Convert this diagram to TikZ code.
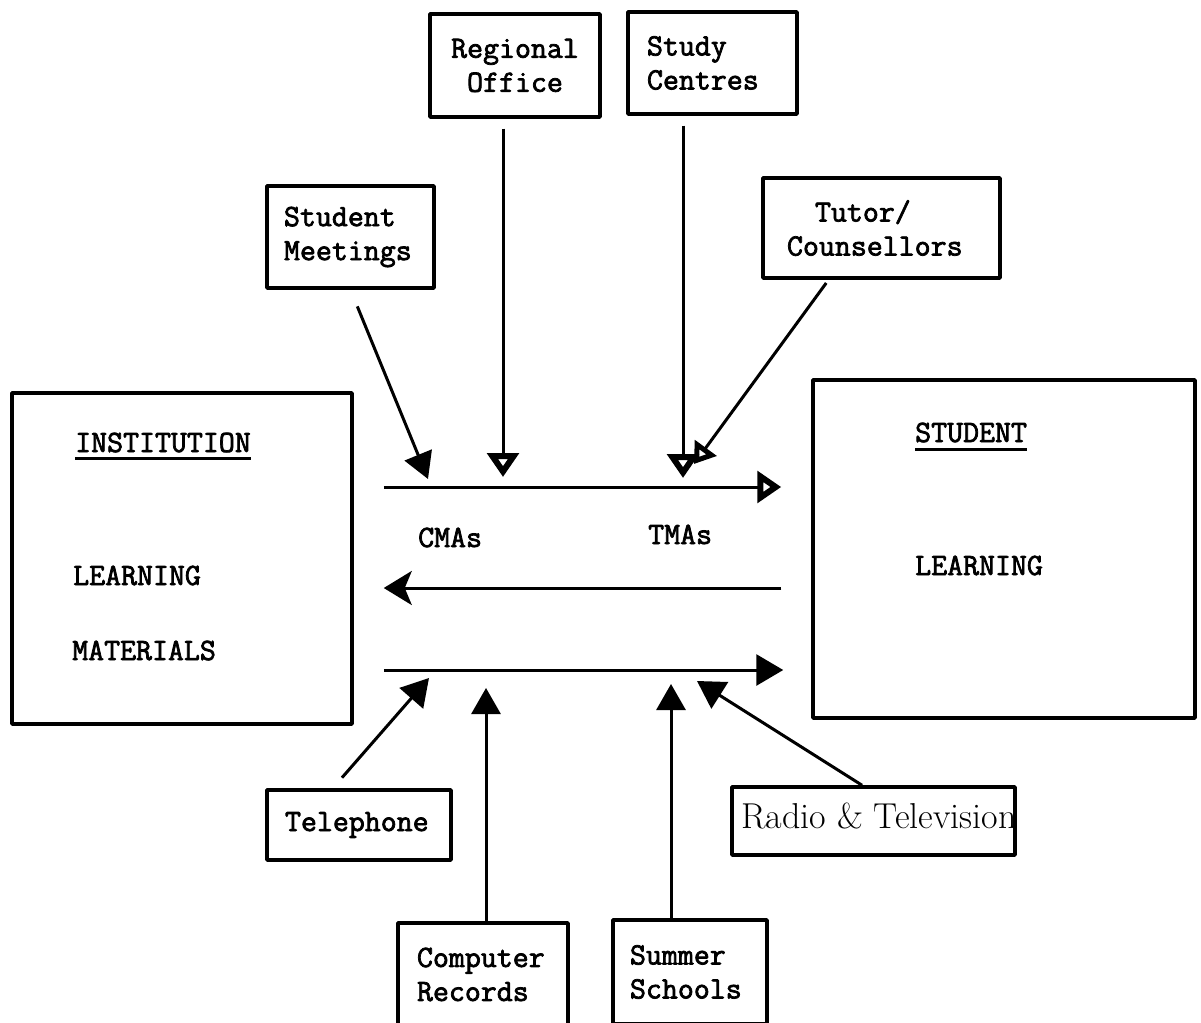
\documentclass[tikz,border=0pt]{standalone}
\usepackage{fontspec}
\newfontfamily\twfam{Latin Modern Mono}[FakeBold=2.4]
\usetikzlibrary{arrows.meta,calc}
\newcommand\twfont{\twfam\fontsize{31}{34}\selectfont}
\newcommand\radiofont{\rmfamily\fontsize{36}{40}\selectfont}
\begin{document}
\begin{tikzpicture}[x=1pt,y=-1pt,line join=round,
  box/.style={draw,line width=3.5pt,inner sep=0pt,font=\twfont},
  bigbox/.style={draw,line width=3.5pt,inner sep=0pt},
  lbl/.style={inner sep=0pt,font=\twfont,anchor=base west},
  conn/.style={line width=3pt},
  hopen/.style={-{Triangle[open,length=24pt,width=31pt,line width=6.5pt]}},
  hsmall/.style={-{Triangle[open,length=20pt,width=26pt,line width=6pt]}},
  hthick/.style={-{Triangle[length=26pt,width=29pt]}},
  hfill/.style={-{Triangle[length=27pt,width=31pt]}},
  hstealth/.style={-{Stealth[length=28pt,width=34pt,inset=7pt]}}]
\useasboundingbox (0,0) rectangle (1201,1022);

% main boxes
\node[bigbox,minimum width=340pt,minimum height=331pt] (inst) at (182,558.5) {};
\node[bigbox,minimum width=382pt,minimum height=338pt] (stud) at (1004,549) {};

\node[lbl] (insttitle) at (75,452) {INSTITUTION};
\draw[line width=3pt] ([yshift=-6pt]insttitle.base west) -- ([yshift=-6pt]insttitle.base east);
\node[lbl] (instl1) at (73,585) {LEARNING};
\node[lbl] (instl2) at (72,660) {MATERIALS};

\node[lbl] (studtitle) at (915,442) {STUDENT};
\draw[line width=3pt] ([yshift=-7pt]studtitle.base west) -- ([yshift=-7pt]studtitle.base east);
\node[lbl] (studl1) at (915,575) {LEARNING};

\node[lbl] (cmas) at (418,547) {CMAs};
\node[lbl] (tmas) at (648,544) {TMAs};

% small boxes
\node[box,minimum width=170pt,minimum height=103pt,align=center] (regional) at (515,65.5) {Regional\\Office};
\node[box,minimum width=169pt,minimum height=102pt,text width=131pt,align=left] (study) at (712.5,63) {Study\\Centres};
\node[box,minimum width=167pt,minimum height=102pt,text width=133pt,align=left] (meet) at (350.5,237) {Student\\Meetings};
\node[box,minimum width=237pt,minimum height=100pt,text width=189pt,align=left] (tutor) at (881.5,228) {\hspace*{28pt}Tutor/\\Counsellors};
\node[box,minimum width=184pt,minimum height=70pt,text width=148pt,align=left] (tel) at (359,825) {Telephone};
\node[box,minimum width=170pt,minimum height=103pt,text width=132pt,align=left] (comp) at (483,974.5) {Computer\\Records};
\node[box,minimum width=154pt,minimum height=104pt,text width=120pt,align=left] (summer) at (690,972) {Summer\\Schools};

\begin{scope}
  \clip (732,787) rectangle (1015,855);
  \node[inner sep=0pt,anchor=base west,font=\radiofont] (radiotext) at (741,828) {Radio \& Television};
\end{scope}
\node[box,minimum width=283pt,minimum height=68pt] (radio) at (873.5,821) {};

% free ends
\coordinate (r1) at (0,487);
\coordinate (r2) at (0,588);
\coordinate (r3) at (0,670);
\coordinate (tm) at (428,479);
\coordinate (tr) at (503,477);
\coordinate (ts) at (683,478);
\coordinate (tt) at (694,464);
\coordinate (bt) at (429,678);
\coordinate (bc) at (486,688);
\coordinate (bs) at (671,684);
\coordinate (br) at (697,681);

% main flows
\draw[conn,hopen,shorten <=30pt,shorten >=30pt] (inst.east |- r1) -- (stud.west |- r1);
\draw[conn,hstealth,shorten <=30pt,shorten >=30pt] (stud.west |- r2) -- (inst.east |- r2);
\draw[conn,hfill,shorten <=30pt,shorten >=28pt] (inst.east |- r3) -- (stud.west |- r3);

% top inputs
\draw[conn,hthick,shorten <=18pt] (meet.south) -- (tm);
\draw[conn,hopen,shorten <=10pt] (regional.south -| tr) -- (tr);
\draw[conn,hopen,shorten <=10pt] (study.south -| ts) -- (ts);
\draw[conn,hsmall,shorten <=4pt] ($(tutor.south west)!0.28!(tutor.south east)$) -- (tt);

% bottom inputs
\draw[conn,hfill,shorten <=14pt] ($(tel.north west)!0.36!(tel.north east)$) -- (bt);
\draw[conn,hthick] (comp.north -| bc) -- (bc);
\draw[conn,hthick] (summer.north -| bs) -- (bs);
\draw[conn,hfill] ($(radio.north west)!0.46!(radio.north east)$) -- (br);
\end{tikzpicture}
\end{document}
